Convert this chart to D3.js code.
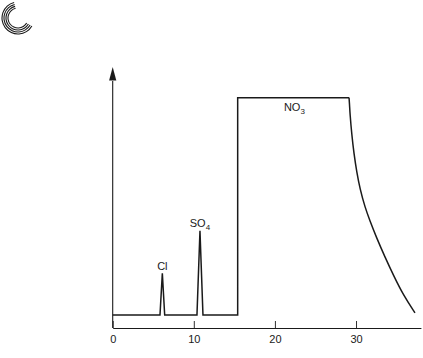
<!DOCTYPE html>
<html>
<head>
<meta charset="utf-8">
<script src="https://cdn.jsdelivr.net/npm/d3@7/dist/d3.min.js"></script>
<style>
  html, body { margin: 0; padding: 0; background: #fff; }
  svg { display: block; font-family: "Liberation Sans", Arial, sans-serif; }
</style>
</head>
<body>
<svg id="chart" width="423" height="358"></svg>
<script>
// ---- data ----
const xTicks = [0, 10, 20, 30];
// piecewise (baseline, Cl peak, SO4 peak, NO3 step, plateau)
const stepX = [0, 5.83, 6.12, 6.41, 10.39, 10.76, 11.13, 15.41, 15.41, 29.14];
const stepY = [5, 5, 21.0, 5, 5, 37.4, 5, 5, 88.6, 88.6];
// NO3 tail (decay)
const tailX = [29.14, 29.2, 29.26, 29.47, 29.75, 30.09, 30.49, 31.1, 31.72, 32.55, 33.57, 34.6, 35.83, 37.27, 37.27];
const tailY = [88.6, 86.0, 82.3, 74.6, 66.9, 60.0, 53.5, 46.5, 41.2, 34.6, 27.3, 20.4, 12.7, 5.8, 5.8];
const peakNames = ["Cl", "SO", "NO"];
const peakSubs = ["", "4", "3"];
const peakLabelX = [6.12, 10.76, 22.4];
const peakLabelY = [22.5, 39.0, 83.4];

const svg = d3.select("#chart");
const ink = "#1a1a1a";

const x = d3.scaleLinear().domain([0, 38]).range([112.7, 420.9]);
const y = d3.scaleLinear().domain([0, 100]).range([328, 68]);

// logo: concentric arcs
const logo = svg.append("g").attr("transform", "translate(18,18)");
[10, 12, 14, 16].forEach(r => {
  logo.append("path")
    .attr("d", d3.arc()({innerRadius: r - 0.55, outerRadius: r + 0.55,
      startAngle: 120 * Math.PI / 180, endAngle: 346 * Math.PI / 180}))
    .attr("fill", ink);
});

// x axis
const xAxis = d3.axisBottom(x).tickValues(xTicks).tickSizeInner(-7).tickSizeOuter(0).tickPadding(7);
const gx = svg.append("g").attr("transform", `translate(0,${y(0)})`).call(xAxis);
gx.select(".domain").attr("stroke", ink).attr("stroke-width", 1.1);
gx.selectAll(".tick line").attr("stroke", ink).attr("stroke-width", 0.9);
gx.selectAll(".tick text").attr("fill", ink).attr("font-size", 11)
  .attr("font-family", "Liberation Sans, Arial, sans-serif");

// y axis with arrow
svg.append("line")
  .attr("x1", x(0)).attr("x2", x(0))
  .attr("y1", y(0)).attr("y2", y(95))
  .attr("stroke", ink).attr("stroke-width", 1.1);
svg.append("path")
  .attr("d", `M${x(0)},${y(100) - 1} L${x(0) - 3.6},${y(95.2)} L${x(0) + 3.6},${y(95.2)} Z`)
  .attr("fill", ink);

// trace
const line = d3.line().x(d => x(d[0])).y(d => y(d[1]));
svg.append("path")
  .attr("d", line(stepX.map((v, i) => [v, stepY[i]])))
  .attr("fill", "none").attr("stroke", ink).attr("stroke-width", 1.5)
  .attr("stroke-linejoin", "miter");
svg.append("path")
  .attr("d", line.curve(d3.curveBasis)(tailX.map((v, i) => [v, tailY[i]])))
  .attr("fill", "none").attr("stroke", ink).attr("stroke-width", 1.5);

// labels
peakNames.forEach((n, i) => {
  const t = svg.append("text")
    .attr("x", x(peakLabelX[i])).attr("y", y(peakLabelY[i]))
    .attr("text-anchor", "middle").attr("font-size", 11).attr("fill", ink);
  t.append("tspan").text(n);
  if (peakSubs[i]) t.append("tspan").attr("dy", 3).attr("font-size", 8).text(peakSubs[i]);
});
</script>
</body>
</html>
